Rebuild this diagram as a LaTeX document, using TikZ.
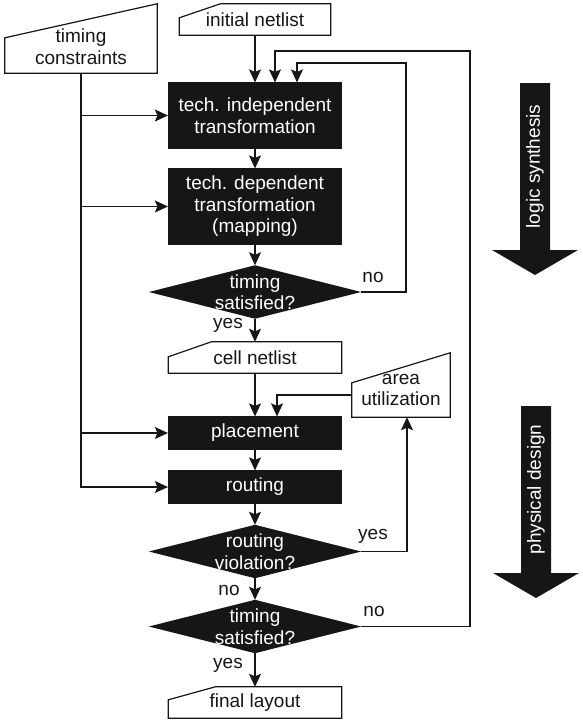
\documentclass[tikz,border=0pt]{standalone}
\usepackage{fontspec}
\setmainfont{Liberation Sans}
\usetikzlibrary{arrows.meta,calc}
\pgfdeclarelayer{background}
\pgfsetlayers{background,main}
\definecolor{ink}{HTML}{161616}

\begin{document}
\begin{tikzpicture}[x=1pt,y=-1pt,
  font=\fontsize{19}{21.5}\selectfont,
  every node/.style={inner sep=0pt, align=center},
  process/.style={draw=ink, fill=ink, text=white, line width=1.2pt, minimum width=173pt},
  decision/.style={text=white, minimum width=212pt, minimum height=53pt},
  dataio/.style={text=ink},
  outline/.style={draw=ink, line width=1.2pt, line join=miter},
  flow/.style={draw=ink, line width=1.2pt, -{Stealth[length=13pt,width=12pt,inset=2.5pt]}},
  link/.style={draw=ink, line width=1.2pt},
  lbl/.style={text=ink}
]
\useasboundingbox (0,0) rectangle (583,720);

% ---- main flow ----
\node[dataio, minimum width=151pt, minimum height=31pt] (in) at (255,19.5) {initial netlist};
\node[dataio, minimum width=152pt, minimum height=53pt] (tc) at (81,46.5) {timing\\constraints};
\node[process, minimum height=65pt] (b1) at (255,115.5) {tech. independent\\transformation};
\node[process, minimum height=75pt] (b2) at (255,206.5) {tech. dependent\\transformation\\(mapping)};
\node[decision] (d1) at (255,292) {timing\\satisfied?};
\node[dataio, minimum width=173pt, minimum height=31pt] (cn) at (255,357.5) {cell netlist};
\node[dataio, minimum width=98pt, minimum height=54pt] (au) at (401,390) {area\\utilization};
\node[process, minimum height=32pt] (pl) at (255,433) {placement};
\node[process, minimum height=32pt] (rt) at (255,487) {routing};
\node[decision] (d2) at (255,551.5) {routing\\violation?};
\node[decision] (d3) at (255,626.5) {timing\\satisfied?};
\node[dataio, minimum width=173pt, minimum height=31pt] (fl) at (255,702.5) {final layout};

% decision diamonds behind their text
\begin{pgfonlayer}{background}
  \foreach \d in {d1,d2,d3}
    \fill[ink] (\d.north) -- (\d.east) -- (\d.south) -- (\d.west) -- cycle;
\end{pgfonlayer}

% data boxes with a cut top edge
\draw[outline] (in.south west) -- (in.south east) -- (in.north east)
  -- ($(in.north west)+(41,0)$) -- ($(in.north west)+(0,14)$) -- cycle;
\draw[outline] (cn.south west) -- (cn.south east) -- (cn.north east)
  -- ($(cn.north west)+(43,0)$) -- ($(cn.north west)+(0,15)$) -- cycle;
\draw[outline] (fl.south west) -- (fl.south east) -- (fl.north east)
  -- ($(fl.north west)+(47,0)$) -- ($(fl.north west)+(0,13)$) -- cycle;
\draw[outline] (tc.south west) -- (tc.south east) -- ($(tc.north east)+(0,-16)$)
  -- ($(tc.north west)+(0,18)$) -- cycle;
\draw[outline] (au.south west) -- (au.south east) -- ($(au.north east)+(0,-10)$)
  -- ($(au.north west)+(0,20)$) -- cycle;

% ---- straight connections ----
\draw[flow] (in) -- (b1);
\draw[flow] (b1) -- (b2);
\draw[flow] (b2) -- (d1);
\draw[flow] (d1) -- (cn);
\draw[flow] (cn) -- (pl);
\draw[flow] (pl) -- (rt);
\draw[flow] (rt) -- (d2);
\draw[flow] (d2) -- (d3);
\draw[flow] (d3) -- (fl);

% ---- timing constraints feed ----
\draw[flow] (tc.south) |- (rt.west);
\draw[flow] (tc.south |- b1.west) -- (b1.west);
\draw[flow] (tc.south |- b2.west) -- (b2.west);
\draw[flow] (tc.south |- pl.west) -- (pl.west);

% ---- feedback loops ----
\coordinate (loopA) at (406,63);
\coordinate (loopB) at (470,51);
\coordinate (b1inA) at ([xshift=42pt]b1.north);
\coordinate (b1inB) at ([xshift=20pt]b1.north);
\draw[flow] (d1.east) -| (loopA) -- (b1inA |- loopA) -- (b1inA);
\draw[flow] (d3.east) -| (loopB) -- (b1inB |- loopB) -- (b1inB);

\coordinate (auIn) at ([xshift=6pt]au.south);
\coordinate (auOut) at ([yshift=-5pt]au.west);
\coordinate (plIn) at ([xshift=22pt]pl.north);
\draw[flow] (d2.east) -| (auIn);
\draw[flow] (auOut) -| (plIn);

% ---- branch labels ----
\node[lbl] (no1) at (373,277) {no};
\node[lbl] (yes1) at (228,325) {yes};
\node[lbl] (yes2) at (373,536) {yes};
\node[lbl] (no2) at (229,590) {no};
\node[lbl] (no3) at (374,611) {no};
\node[lbl] (yes3) at (228,665) {yes};

% ---- phase arrows ----
\fill[ink] (520,83) -- (550,83) -- (550,250) -- (578,250) -- (535,275)
  -- (492,250) -- (520,250) -- cycle;
\node[rotate=90, text=white] (ls) at (535,166.5) {logic synthesis};
\fill[ink] (521,406) -- (551,406) -- (551,573) -- (579,573) -- (536,598)
  -- (493,573) -- (521,573) -- cycle;
\node[rotate=90, text=white] (pd) at (536,489.5) {physical design};
\end{tikzpicture}
\end{document}
